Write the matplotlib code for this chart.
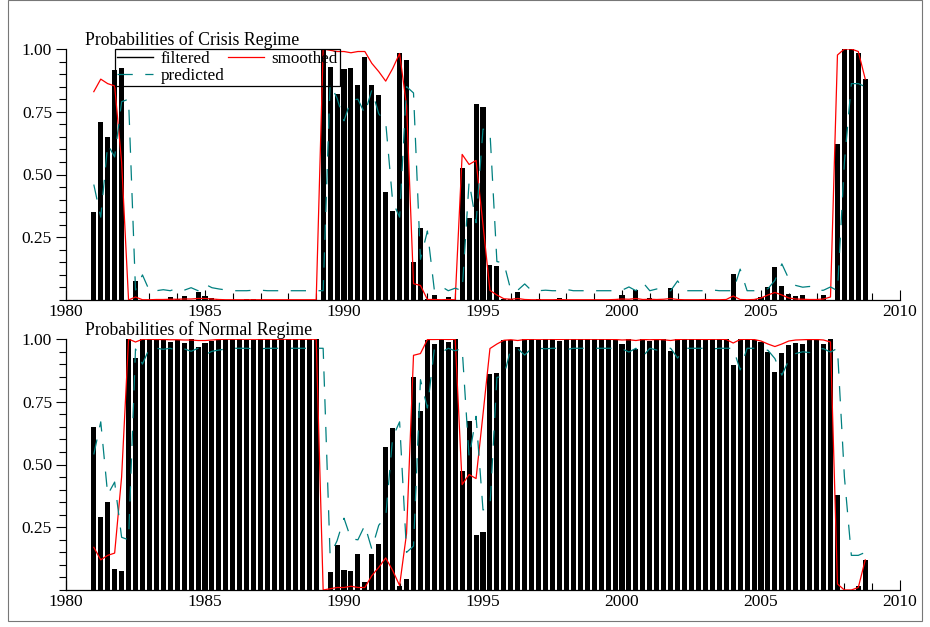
import numpy as np
import matplotlib
matplotlib.use("Agg")
import matplotlib.pyplot as plt
from matplotlib.lines import Line2D
from matplotlib.patches import Rectangle
from matplotlib.ticker import MultipleLocator, FixedLocator, FixedFormatter

plt.rcParams.update({
    "font.family": "serif",
    "font.serif": ["Liberation Serif", "DejaVu Serif"],
    "font.size": 12.5,
    "lines.scale_dashes": False,
})

# quarterly observations, 1981Q1 .. 2008Q4
quarters = np.arange(1981.0, 2009.0, 0.25)

# probability of the crisis regime (one row per year)
filtered_crisis = [
    0.35, 0.71, 0.65, 0.915,
    0.925, 0.0, 0.075, 0.0,
    0.0, 0.005, 0.0, 0.012,
    0.003, 0.015, 0.0, 0.032,
    0.015, 0.008, 0.004, 0.0,
    0.0, 0.0, 0.002, 0.002,
    0.0, 0.0, 0.0, 0.0,
    0.0, 0.0, 0.0, 0.0,
    0.0, 1.0, 0.93, 0.82,
    0.92, 0.925, 0.855, 0.97,
    0.855, 0.815, 0.43, 0.355,
    0.985, 0.955, 0.152, 0.288,
    0.003, 0.02, 0.0, 0.012,
    0.0, 0.527, 0.328, 0.78,
    0.768, 0.14, 0.135, 0.003,
    0.002, 0.033, 0.0, 0.0,
    0.002, 0.0, 0.0, 0.006,
    0.0, 0.0, 0.0, 0.0,
    0.0, 0.0, 0.0, 0.003,
    0.018, 0.0, 0.04, 0.0,
    0.008, 0.0, 0.0, 0.047,
    0.0, 0.0, 0.0, 0.0,
    0.004, 0.0, 0.0, 0.0,
    0.104, 0.0, 0.0, 0.002,
    0.01, 0.05, 0.13, 0.057,
    0.025, 0.017, 0.02, 0.0,
    0.002, 0.018, 0.0, 0.62,
    1.0, 1.0, 0.985, 0.88,
]

smoothed_crisis = [
    0.83, 0.88, 0.862, 0.853,
    0.55, 0.0, 0.012, 0.001,
    0.001, 0.002, 0.002, 0.003,
    0.003, 0.004, 0.004, 0.006,
    0.006, 0.004, 0.002, 0.001,
    0.001, 0.001, 0.001, 0.001,
    0.001, 0.001, 0.001, 0.001,
    0.001, 0.001, 0.001, 0.001,
    0.001, 1.0, 0.995, 0.99,
    0.99, 0.985, 0.99, 0.99,
    0.943, 0.91, 0.872, 0.922,
    0.982, 0.775, 0.065, 0.058,
    0.002, 0.002, 0.001, 0.002,
    0.001, 0.58, 0.54, 0.556,
    0.30, 0.038, 0.02, 0.005,
    0.003, 0.006, 0.002, 0.001,
    0.001, 0.001, 0.001, 0.002,
    0.001, 0.001, 0.001, 0.001,
    0.001, 0.001, 0.001, 0.002,
    0.004, 0.003, 0.006, 0.002,
    0.003, 0.002, 0.003, 0.006,
    0.002, 0.001, 0.001, 0.001,
    0.002, 0.001, 0.001, 0.002,
    0.016, 0.002, 0.001, 0.002,
    0.008, 0.02, 0.03, 0.02,
    0.008, 0.004, 0.003, 0.002,
    0.002, 0.004, 0.012, 0.976,
    1.0, 1.0, 0.99, 0.88,
]

predicted_crisis = [
    0.46, 0.33, 0.62, 0.57,
    0.79, 0.80, 0.04, 0.10,
    0.037, 0.037, 0.041, 0.037,
    0.047, 0.039, 0.049, 0.037,
    0.063, 0.049, 0.044, 0.040,
    0.037, 0.037, 0.037, 0.039,
    0.039, 0.037, 0.037, 0.037,
    0.037, 0.037, 0.037, 0.037,
    0.037, 0.037, 0.862, 0.804,
    0.714, 0.796, 0.80, 0.742,
    0.837, 0.742, 0.709, 0.392,
    0.33, 0.85, 0.825, 0.162,
    0.275, 0.039, 0.054, 0.037,
    0.047, 0.037, 0.472, 0.308,
    0.681, 0.671, 0.153, 0.148,
    0.039, 0.039, 0.064, 0.037,
    0.037, 0.039, 0.037, 0.037,
    0.042, 0.037, 0.037, 0.037,
    0.037, 0.037, 0.037, 0.037,
    0.039, 0.052, 0.037, 0.07,
    0.037, 0.044, 0.037, 0.037,
    0.076, 0.037, 0.037, 0.037,
    0.037, 0.04, 0.037, 0.037,
    0.037, 0.123, 0.037, 0.037,
    0.039, 0.045, 0.078, 0.144,
    0.084, 0.058, 0.051, 0.054,
    0.037, 0.039, 0.052, 0.037,
    0.549, 0.862, 0.862, 0.85,
]

# two regimes: the normal-regime probabilities are the complement
filtered_normal = 1 - np.array(filtered_crisis)
smoothed_normal = 1 - np.array(smoothed_crisis)
predicted_normal = 1 - np.array(predicted_crisis)

panel_titles = ["Probabilities of Crisis Regime", "Probabilities of Normal Regime"]
year_ticks = [1980, 1985, 1990, 1995, 2000, 2005, 2010]
prob_ticks = [0.25, 0.50, 0.75, 1.00]
prob_labels = ["0.25", "0.50", "0.75", "1.00"]

TEAL = "#008080"
RED = "#ff0000"
DASH = (0, (11, 9))

fig = plt.figure(figsize=(9.3, 6.27), dpi=100)
W, H = 930.0, 627.0


def px_axes(left, top, right, bottom):
    return fig.add_axes([left / W, 1 - bottom / H, (right - left) / W, (bottom - top) / H])


ax_top = px_axes(66, 49, 900, 300)
ax_bot = px_axes(66, 339, 900, 590)

panels = [
    (ax_top, filtered_crisis, smoothed_crisis, predicted_crisis),
    (ax_bot, filtered_normal, smoothed_normal, predicted_normal),
]

for k, (ax, filt, smooth, pred) in enumerate(panels):
    ax.bar(quarters, filt, width=0.18, color="black", edgecolor="none", zorder=2)
    ax.plot(quarters, smooth, color=RED, lw=0.9, zorder=3)
    ax.plot(quarters, pred, color=TEAL, lw=0.9, ls=DASH, zorder=3)

    ax.set_xlim(1980, 2010)
    ax.set_ylim(0, 1)
    ax.xaxis.set_major_locator(FixedLocator(year_ticks))
    ax.xaxis.set_minor_locator(MultipleLocator(1))
    ax.yaxis.set_major_locator(FixedLocator(prob_ticks))
    ax.yaxis.set_major_formatter(FixedFormatter(prob_labels))
    ax.yaxis.set_minor_locator(MultipleLocator(0.05))
    ax.tick_params(axis="both", which="major", length=7, width=0.8,
                   labelsize=12.5, pad=3)
    ax.tick_params(axis="both", which="minor", length=5, width=0.8)
    ax.tick_params(axis="x", which="both", direction="in")
    ax.tick_params(axis="y", which="both", direction="out")
    for side in ("top", "right"):
        ax.spines[side].set_visible(False)
    for side in ("left", "bottom"):
        ax.spines[side].set_linewidth(0.9)
    ax.set_facecolor("none")
    ax.text((85 - 66) / 834, 1.0, panel_titles[k], transform=ax.transAxes,
            ha="left", va="bottom", fontsize=12.8)

# legend in the upper panel, two columns
handles = [
    Line2D([], [], color="black", lw=1.0),
    Line2D([], [], color=TEAL, lw=0.9, ls=DASH),
    Line2D([], [], color=RED, lw=0.9),
]
leg = ax_top.legend(handles, ["filtered", "predicted", "smoothed"], ncol=2,
                    loc="upper left", bbox_to_anchor=((115 - 66) / 834, 1.0),
                    frameon=True, fancybox=False, framealpha=1, borderaxespad=0,
                    fontsize=12.3, handlelength=2.1, handletextpad=0.45,
                    columnspacing=0.2, borderpad=0.12, labelspacing=0.08)
leg.get_frame().set_edgecolor("black")
leg.get_frame().set_facecolor("none")
leg.get_frame().set_linewidth(0.9)

# outer frame of the figure
fig.patches.append(Rectangle((8 / W, 1 - 621 / H), 914 / W, 621 / H,
                             transform=fig.transFigure, fill=False,
                             edgecolor="#777777", lw=0.8))

fig.savefig("out.png", dpi=100)
